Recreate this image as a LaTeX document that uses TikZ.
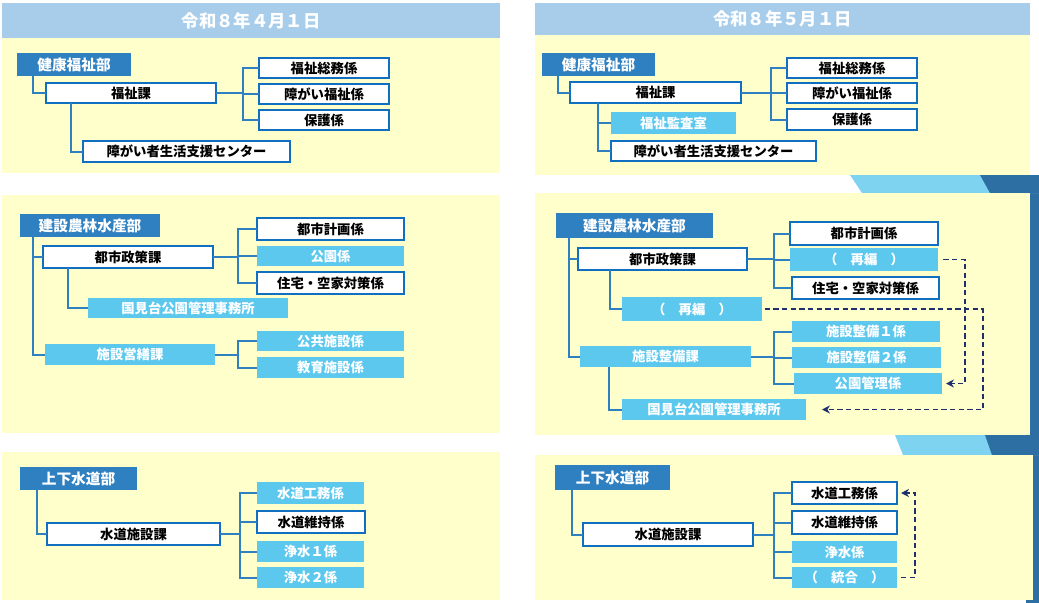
\documentclass[tikz,border=0pt]{standalone}
\usepackage{fontspec}
\setmainfont{Noto Sans CJK JP}
\usetikzlibrary{arrows.meta}
\definecolor{dk}{HTML}{2F80C1}
\definecolor{lt}{HTML}{5CC8EE}
\definecolor{hd}{HTML}{A8CDEA}
\definecolor{yl}{HTML}{FFFFCC}
\definecolor{bd}{HTML}{1070BF}
\definecolor{ln}{HTML}{2F80C1}
\definecolor{nv}{HTML}{1F2F6E}
\definecolor{sk}{HTML}{7DD3F0}
\definecolor{db}{HTML}{2D6FA3}
\tikzset{
  base/.style={inner sep=0pt,outer sep=0pt,font=\bfseries\fontsize{10}{11}\selectfont},
  wbox/.style={base,draw=bd,line width=1.6pt,fill=white,text=black},
  lbox/.style={base,fill=lt,text=white},
  dbox/.style={base,fill=dk,text=white,font=\bfseries\fontsize{11}{12}\selectfont},
  con/.style={draw=ln,line width=1.5pt},
  dsh/.style={draw=nv,line width=1.3pt,dashed,dash pattern=on 4pt off 2.5pt},
  arr/.style={dsh,-{Stealth[length=6pt,width=6pt]}},
  hdr/.style={fill=hd,inner sep=0pt,text=white,font=\bfseries\fontsize{13}{14}\selectfont},
}
\newcommand\bx[7]{\node[#6,minimum width={(#4-#2)*0.75pt},minimum height={(#5-#3)*0.75pt}] (#1) at ({(#2+#4)/2},{(#3+#5)/2}) {#7};}
\begin{document}
\begin{tikzpicture}[x=0.75pt,y=-0.75pt]
\useasboundingbox (0,0) rectangle (1039,603);
% decorative background
\fill[db] (1026,175) rectangle (1039,603);
\fill[sk] (850,175) -- (1039,175) -- (1039,193) -- (862,193) -- cycle;
\fill[db] (980,175) -- (1039,175) -- (1039,193) -- (990,193) -- cycle;
\fill[sk] (895,435) -- (1039,435) -- (1039,455) -- (903,455) -- cycle;
\fill[db] (985,435) -- (1039,435) -- (1039,455) -- (992,455) -- cycle;
% panels
\fill[yl] (2,38) rectangle (500,173);
\fill[yl] (2,195) rectangle (500,433);
\fill[yl] (2,452) rectangle (500,600);
\fill[yl] (535,35) rectangle (1030,175);
\fill[yl] (535,193) rectangle (1030,435);
\fill[yl] (535,455) rectangle (1033,600);
\bx{h1}{2}{3}{500}{38}{hdr}{令和８年４月１日}
\bx{h2}{535}{3}{1030}{35}{hdr}{令和８年５月１日}
% ===== left panel 1
\bx{a}{17}{53}{131}{76}{dbox}{健康福祉部}
\bx{b}{46}{83}{216}{103}{wbox}{福祉課}
\bx{c1}{259}{58}{389}{78}{wbox}{福祉総務係}
\bx{c2}{259}{84}{389}{104}{wbox}{障がい福祉係}
\bx{c3}{259}{110}{389}{130}{wbox}{保護係}
\bx{d}{83}{141}{290}{162}{wbox}{障がい者生活支援センター}
\coordinate (k1) at (243,0);
\draw[con] ([xshift=12pt]a.south west) |- (b.west);
\draw[con] ([xshift=19pt]b.south west) |- (d.west);
\draw[con] (b.east) -- (b.east -| k1);
\draw[con] (c1.west) -| (k1 |- c3.west) -- (c3.west);
\draw[con] (c2.west) -- (c2.west -| k1);
% ===== right panel 1
\bx{ra}{542}{53}{655}{76}{dbox}{健康福祉部}
\bx{rb}{570}{82}{741}{103}{wbox}{福祉課}
\bx{rc1}{787}{58}{917}{78}{wbox}{福祉総務係}
\bx{rc2}{787}{83}{917}{103}{wbox}{障がい福祉係}
\bx{rc3}{787}{109}{917}{130}{wbox}{保護係}
\bx{re}{611}{112}{736}{134}{lbox}{福祉監査室}
\bx{rd}{611}{141}{816}{161}{wbox}{障がい者生活支援センター}
\coordinate (k2) at (771,0);
\draw[con] ([xshift=12pt]ra.south west) |- (rb.west);
\draw[con] ([xshift=21pt]rb.south west) |- (rd.west);
\draw[con] (re.west) -- (re.west -| rd.west) -- ++(-13,0);
\draw[con] (rb.east) -- (rb.east -| k2);
\draw[con] (rc1.west) -| (k2 |- rc3.west) -- (rc3.west);
\draw[con] (rc2.west) -- (rc2.west -| k2);
% ===== left panel 2
\bx{p}{20}{214}{160}{237}{dbox}{建設農林水産部}
\bx{q}{43}{246}{213}{268}{wbox}{都市政策課}
\bx{q1}{257}{218}{404}{240}{wbox}{都市計画係}
\bx{q2}{257}{246}{404}{266}{lbox}{公園係}
\bx{q3}{257}{272}{404}{294}{wbox}{住宅・空家対策係}
\bx{qk}{88}{298}{288}{318}{lbox}{国見台公園管理事務所}
\bx{s}{45}{344}{215}{365}{lbox}{施設営繕課}
\bx{s1}{257}{331}{404}{351}{lbox}{公共施設係}
\bx{s2}{257}{357}{404}{378}{lbox}{教育施設係}
\coordinate (k3) at (238,0);
\draw[con] ([xshift=10pt]p.south west) |- (s.west);
\draw[con] ([xshift=10pt]p.south west |- q.west) -- (q.west);
\draw[con] ([xshift=19pt]q.south west) |- (qk.west);
\draw[con] (q.east) -- (q.east -| k3);
\draw[con] (q1.west) -| (k3 |- q3.west) -- (q3.west);
\draw[con] (q2.west) -- (q2.west -| k3);
\draw[con] (s.east) -- (s.east -| k3);
\draw[con] (s1.west) -| (k3 |- s2.west) -- (s2.west);
% ===== right panel 2
\bx{rp}{556}{213}{713}{238}{dbox}{建設農林水産部}
\bx{rq}{578}{248}{747}{270}{wbox}{都市政策課}
\bx{rq1}{790}{222}{938}{245}{wbox}{都市計画係}
\bx{rq2}{790}{248}{938}{271}{lbox}{（\quad 再編\quad ）}
\bx{rq3}{792}{277}{939}{299}{wbox}{住宅・空家対策係}
\bx{rr}{622}{297}{762}{321}{lbox}{（\quad 再編\quad ）}
\bx{rs}{580}{346}{751}{367}{lbox}{施設整備課}
\bx{rs1}{792}{321}{940}{342}{lbox}{施設整備１係}
\bx{rs2}{792}{347}{941}{368}{lbox}{施設整備２係}
\bx{rs3}{794}{373}{942}{394}{lbox}{公園管理係}
\bx{rk}{622}{399}{806}{420}{lbox}{国見台公園管理事務所}
\coordinate (k4) at (774,0);
\draw[con] ([xshift=10pt]rp.south west) |- (rs.west);
\draw[con] ([xshift=10pt]rp.south west |- rq.west) -- (rq.west);
\draw[con] ([xshift=24pt]rq.south west) |- (rr.west);
\draw[con] ([xshift=22pt]rs.south west) |- (rk.west);
\draw[con] (rq.east) -- (rq.east -| k4);
\draw[con] (rq1.west) -| (k4 |- rq3.west) -- (rq3.west);
\draw[con] (rq2.west) -- (rq2.west -| k4);
\draw[con] (rs.east) -- (rs.east -| k4);
\draw[con] (rs1.west) -| (k4 |- rs3.west) -- (rs3.west);
\draw[con] (rs2.west) -- (rs2.west -| k4);
\coordinate (t1) at (965,0);
\coordinate (t2) at (983,0);
\draw[arr] ([xshift=4pt]rq2.east) -- (rq2.east -| t1) -- (t1 |- rs3.east) -- ([xshift=3pt]rs3.east);
\draw[arr] ([xshift=2pt]rr.east) -- (rr.east -| t2) -- (t2 |- rk.east) -- ([xshift=12pt]rk.east);
% ===== left panel 3
\bx{w}{20}{467}{137}{490}{dbox}{上下水道部}
\bx{x}{47}{523}{220}{545}{wbox}{水道施設課}
\bx{x1}{257}{482}{364}{504}{lbox}{水道工務係}
\bx{x2}{257}{511}{365}{533}{wbox}{水道維持係}
\bx{x3}{257}{541}{364}{562}{lbox}{浄水１係}
\bx{x4}{257}{567}{364}{588}{lbox}{浄水２係}
\coordinate (k5) at (240,0);
\draw[con] ([xshift=13pt]w.south west) |- (x.west);
\draw[con] (x.east) -- (x.east -| k5);
\draw[con] (x1.west) -| (k5 |- x4.west) -- (x4.west);
\draw[con] (x2.west) -- (x2.west -| k5);
\draw[con] (x3.west) -- (x3.west -| k5);
% ===== right panel 3
\bx{rw}{555}{465}{670}{490}{dbox}{上下水道部}
\bx{rx}{583}{523}{753}{546}{wbox}{水道施設課}
\bx{rx1}{792}{482}{897}{504}{wbox}{水道工務係}
\bx{rx2}{792}{511}{897}{534}{wbox}{水道維持係}
\bx{rx3}{792}{541}{897}{563}{lbox}{浄水係}
\bx{rx4}{792}{567}{897}{588}{lbox}{（\quad 統合\quad ）}
\coordinate (k6) at (774,0);
\coordinate (t3) at (915,0);
\draw[con] ([xshift=13pt]rw.south west) |- (rx.west);
\draw[con] (rx.east) -- (rx.east -| k6);
\draw[con] (rx1.west) -| (k6 |- rx4.west) -- (rx4.west);
\draw[con] (rx2.west) -- (rx2.west -| k6);
\draw[con] (rx3.west) -- (rx3.west -| k6);
\draw[arr] ([xshift=3pt]rx4.east) -- (rx4.east -| t3) -- (t3 |- rx1.east) -- ([xshift=3pt]rx1.east);
\end{tikzpicture}
\end{document}
